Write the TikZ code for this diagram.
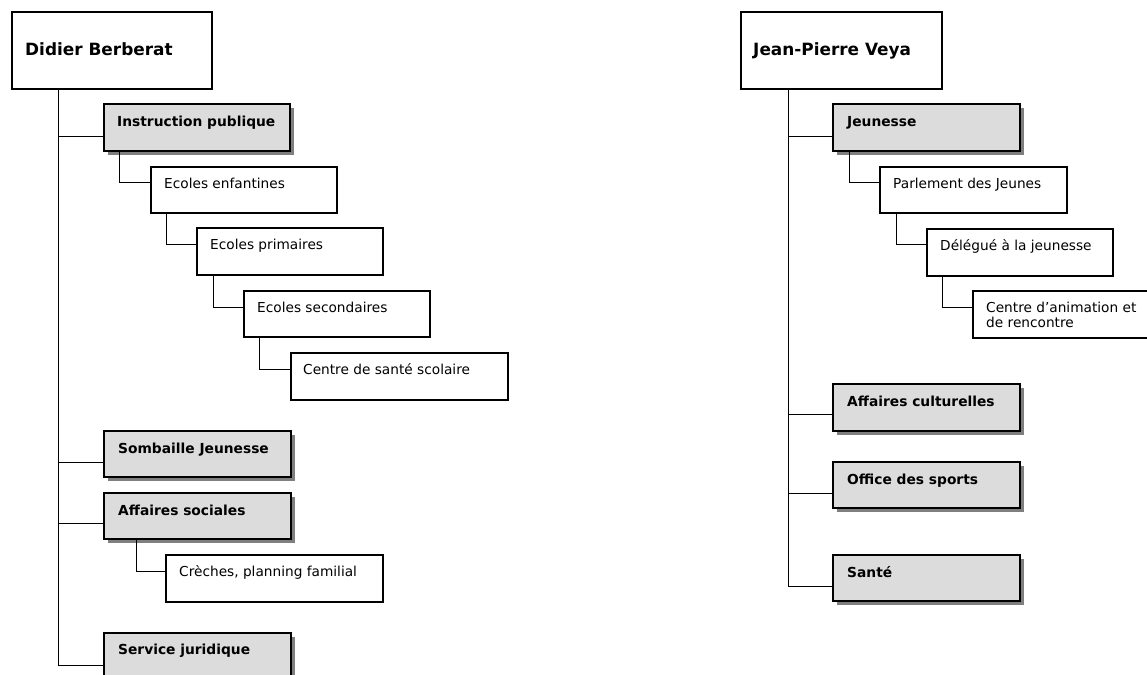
\documentclass[tikz,border=0pt]{standalone}
\usepackage{fontspec}
\setmainfont{DejaVu Sans}
\usetikzlibrary{shadows}
\definecolor{boxgray}{HTML}{DCDCDC}
\definecolor{shadowgray}{HTML}{7F7F7F}
\tikzset{
  plainbox/.style={draw=black, line width=1.1pt, fill=white, rectangle, inner sep=0pt, outer sep=0pt, anchor=north west},
  graybox/.style={plainbox, fill=boxgray, drop shadow={shadow xshift=4pt, shadow yshift=-4pt, fill=shadowgray, opacity=1}},
  boxtext/.style={anchor=base west, inner sep=0pt, font=\fontsize{13.7pt}{15pt}\selectfont},
  boldtext/.style={boxtext, font=\fontsize{13.8pt}{15pt}\selectfont\bfseries},
  titletext/.style={boxtext, font=\fontsize{16.9pt}{19pt}\selectfont\bfseries},
  link/.style={draw=black, line width=1pt}
}
\begin{document}
\begin{tikzpicture}[x=1pt,y=-1pt]
\useasboundingbox (0,0) rectangle (1147,674);
\clip (0,0) rectangle (1147,674);

% ---------- left tree ----------
\node[plainbox, minimum width=200pt, minimum height=77pt] (d) at (12,12) {};
\node[titletext] (d-t) at ([shift={(13pt,-44pt)}]d.north west) {Didier Berberat};

\node[graybox, minimum width=186pt, minimum height=47pt] (ip) at (104,104) {};
\node[boldtext] (ip-t) at ([shift={(13pt,-22pt)}]ip.north west) {Instruction publique};

\node[plainbox, minimum width=186pt, minimum height=46pt] (ee) at (151,167) {};
\node[boxtext] (ee-t) at ([shift={(13pt,-21pt)}]ee.north west) {Ecoles enfantines};

\node[plainbox, minimum width=186pt, minimum height=47pt] (ep) at (197,228) {};
\node[boxtext] (ep-t) at ([shift={(13pt,-21pt)}]ep.north west) {Ecoles primaires};

\node[plainbox, minimum width=186pt, minimum height=46pt] (es) at (244,291) {};
\node[boxtext] (es-t) at ([shift={(13pt,-21pt)}]es.north west) {Ecoles secondaires};

\node[plainbox, minimum width=217pt, minimum height=47pt] (cs) at (291,353) {};
\node[boxtext] (cs-t) at ([shift={(12pt,-21pt)}]cs.north west) {Centre de santé scolaire};

\node[graybox, minimum width=187pt, minimum height=46pt] (sb) at (104,431) {};
\node[boldtext] (sb-t) at ([shift={(14pt,-22pt)}]sb.north west) {Sombaille Jeunesse};

\node[graybox, minimum width=187pt, minimum height=46pt] (as) at (104,493) {};
\node[boldtext] (as-t) at ([shift={(14pt,-22pt)}]as.north west) {Affaires sociales};

\node[plainbox, minimum width=217pt, minimum height=47pt] (cr) at (166,555) {};
\node[boxtext] (cr-t) at ([shift={(13pt,-21pt)}]cr.north west) {Crèches, planning familial};

\node[graybox, minimum width=187pt, minimum height=60pt] (sj) at (104,633) {};
\node[boldtext] (sj-t) at ([shift={(14pt,-21pt)}]sj.north west) {Service juridique};

\draw[link] ([xshift=46pt]d.south west) |- ([yshift=-32pt]ip.north west);
\draw[link] ([xshift=46pt]d.south west) |- ([yshift=-31pt]sb.north west);
\draw[link] ([xshift=46pt]d.south west) |- ([yshift=-30pt]as.north west);
\draw[link] ([xshift=46pt]d.south west) |- ([yshift=-32pt]sj.north west);
\draw[link] ([xshift=15pt]ip.south west) |- ([yshift=-15pt]ee.north west);
\draw[link] ([xshift=15pt]ee.south west) |- ([yshift=-16pt]ep.north west);
\draw[link] ([xshift=16pt]ep.south west) |- ([yshift=-16pt]es.north west);
\draw[link] ([xshift=15pt]es.south west) |- ([yshift=-16pt]cs.north west);
\draw[link] ([xshift=32pt]as.south west) |- ([yshift=-16pt]cr.north west);

% ---------- right tree ----------
\node[plainbox, minimum width=201pt, minimum height=77pt] (j) at (741,12) {};
\node[titletext] (j-t) at ([shift={(12pt,-44pt)}]j.north west) {Jean-Pierre Veya};

\node[graybox, minimum width=187pt, minimum height=47pt] (je) at (833,104) {};
\node[boldtext] (je-t) at ([shift={(14pt,-22pt)}]je.north west) {Jeunesse};

\node[plainbox, minimum width=187pt, minimum height=46pt] (pj) at (880,167) {};
\node[boxtext] (pj-t) at ([shift={(13pt,-21pt)}]pj.north west) {Parlement des Jeunes};

\node[plainbox, minimum width=186pt, minimum height=47pt] (dj) at (927,229) {};
\node[boxtext] (dj-t) at ([shift={(13pt,-21pt)}]dj.north west) {Délégué à la jeunesse};

\node[plainbox, minimum width=190pt, minimum height=47pt] (ca) at (973,291) {};
\node[boxtext] (ca-t1) at ([shift={(13pt,-21pt)}]ca.north west) {Centre d’animation et};
\node[boxtext] (ca-t2) at ([shift={(13pt,-36pt)}]ca.north west) {de rencontre};

\node[graybox, minimum width=187pt, minimum height=47pt] (ac) at (833,384) {};
\node[boldtext] (ac-t) at ([shift={(14pt,-22pt)}]ac.north west) {Affaires culturelles};

\node[graybox, minimum width=187pt, minimum height=46pt] (os) at (833,462) {};
\node[boldtext] (os-t) at ([shift={(14pt,-22pt)}]os.north west) {Office des sports};

\node[graybox, minimum width=187pt, minimum height=46pt] (sa) at (833,555) {};
\node[boldtext] (sa-t) at ([shift={(14pt,-22pt)}]sa.north west) {Santé};

\draw[link] ([xshift=47pt]j.south west) |- ([yshift=-32pt]je.north west);
\draw[link] ([xshift=47pt]j.south west) |- ([yshift=-30pt]ac.north west);
\draw[link] ([xshift=47pt]j.south west) |- ([yshift=-31pt]os.north west);
\draw[link] ([xshift=47pt]j.south west) |- ([yshift=-31pt]sa.north west);
\draw[link] ([xshift=16pt]je.south west) |- ([yshift=-15pt]pj.north west);
\draw[link] ([xshift=16pt]pj.south west) |- ([yshift=-15pt]dj.north west);
\draw[link] ([xshift=15pt]dj.south west) |- ([yshift=-16pt]ca.north west);
\end{tikzpicture}
\end{document}
